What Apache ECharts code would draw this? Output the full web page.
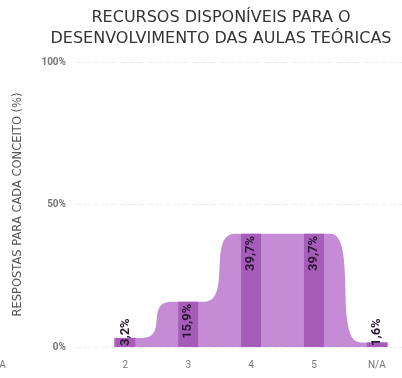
<!DOCTYPE html>
<html>
<head>
<meta charset="utf-8">
<script src="https://cdn.jsdelivr.net/npm/echarts@6/dist/echarts.min.js"></script>
<style>html,body{margin:0;padding:0;background:#fff}#c{width:402px;height:378px}</style>
</head>
<body>
<div id="c"></div>
<script>
const categories = ['2', '3', '4', '5', 'N/A'];
const values = [3.2, 15.9, 39.7, 39.7, 1.6];
const yTicks = [0, 50, 100];
const titleText = 'RECURSOS DISPONÍVEIS PARA O\nDESENVOLVIMENTO DAS AULAS TEÓRICAS';
const yName = 'RESPOSTAS PARA CADA CONCEITO (%)';

const FONT = 'Roboto';
const fmt = v => v.toFixed(1).replace('.', ',') + '%';

// smooth stepped envelope built from the values
const half = 0.26, edge = 0.18;
const envelope = [];
values.forEach((v, i) => {
  const l = i === 0 ? i - edge : i - half;
  const r = i === values.length - 1 ? i + edge : i + half;
  envelope.push([l, v], [r, v]);
});

const barData = values.map((v, i) => ({
  value: [i, v],
  label: v < 8
    ? { position: 'insideBottom', align: 'left', distance: 1 }
    : { position: 'insideTop', align: 'right', distance: 2 }
}));

const chart = echarts.init(document.getElementById('c'), null, { renderer: 'canvas' });
chart.setOption({
  animation: false,
  title: {
    text: titleText,
    left: 216,
    top: 2,
    textAlign: 'center',
    textStyle: { fontFamily: 'DejaVu Sans', fontSize: 16, fontWeight: 'normal', color: '#333', lineHeight: 21 }
  },
  grid: { left: 75, right: 0, top: 62, bottom: 31 },
  xAxis: {
    type: 'value',
    min: -0.8,
    max: 4.4,
    axisLine: { show: false },
    axisTick: { show: false },
    splitLine: { show: false },
    axisLabel: {
      customValues: categories.map((c, i) => i),
      formatter: v => categories[Math.round(v)],
      color: '#777',
      fontFamily: FONT,
      fontSize: 10,
      margin: 13
    }
  },
  yAxis: {
    type: 'value',
    min: 0,
    max: 100,
    interval: 50,
    name: yName,
    nameLocation: 'middle',
    nameGap: 51,
    nameTextStyle: { fontFamily: 'DejaVu Sans', fontSize: 11.5, color: '#555' },
    axisLine: { show: false },
    axisTick: { show: false },
    axisLabel: {
      formatter: v => v + '%',
      color: '#777',
      fontFamily: FONT,
      fontSize: 10,
      fontWeight: 'bold',
      margin: 9
    },
    splitLine: { lineStyle: { color: '#ececec', type: [6, 3], width: 1 } }
  },
  series: [
    {
      type: 'line',
      data: envelope,
      smooth: 0.9,
      smoothMonotone: 'x',
      symbol: 'none',
      lineStyle: { width: 0 },
      areaStyle: { color: '#c68bd5', opacity: 1 },
      z: 1
    },
    {
      type: 'bar',
      data: barData,
      barWidth: 20,
      itemStyle: { color: '#a65dba' },
      label: {
        show: true,
        rotate: 90,
        verticalAlign: 'middle',
        formatter: p => fmt(p.value[1]),
        fontFamily: FONT,
        fontSize: 13,
        fontWeight: 'bold',
        color: '#2a1633'
      },
      z: 2
    }
  ],
  graphic: [
    {
      type: 'text',
      left: -12,
      top: 360,
      style: { text: 'N/A', fontFamily: FONT, fontSize: 10, fill: '#777' }
    }
  ]
});
</script>
</body>
</html>
